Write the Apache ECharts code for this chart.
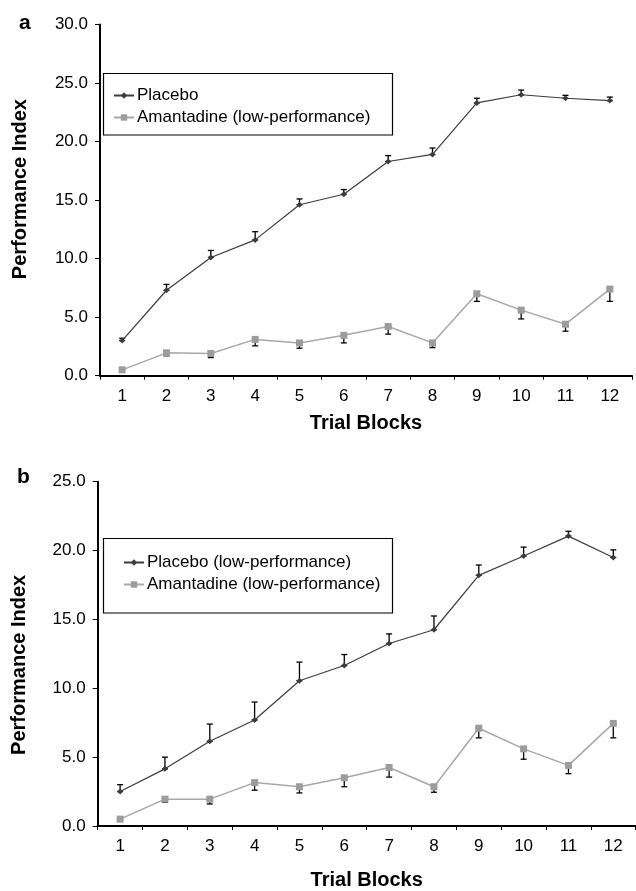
<!DOCTYPE html>
<html>
<head>
<meta charset="utf-8">
<script src="https://cdn.jsdelivr.net/npm/echarts@6/dist/echarts.min.js"></script>
<style>
html,body{margin:0;padding:0;background:#fff;}
#chart{width:636px;height:891px;}
</style>
</head>
<body>
<div id="chart"></div>
<script>
const categories = ['1','2','3','4','5','6','7','8','9','10','11','12'];

// Panel a
const placeboA = [3.0, 7.3, 10.1, 11.6, 14.6, 15.5, 18.3, 18.9, 23.3, 24.0, 23.7, 23.5];
const placeboAUpper = [3.2, 7.8, 10.7, 12.3, 15.1, 15.9, 18.8, 19.45, 23.7, 24.4, 23.95, 23.8];
const amantadineA = [0.5, 1.95, 1.9, 3.1, 2.8, 3.45, 4.2, 2.8, 7.0, 5.6, 4.4, 7.4];
const amantadineALower = [0.5, 1.7, 1.55, 2.55, 2.35, 2.8, 3.55, 2.4, 6.35, 4.85, 3.8, 6.35];

// Panel b
const placeboB = [2.5, 4.15, 6.15, 7.7, 10.55, 11.65, 13.25, 14.25, 18.2, 19.6, 21.05, 19.5];
const placeboBUpper = [3.0, 5.0, 7.4, 9.0, 11.9, 12.45, 13.95, 15.25, 18.95, 20.25, 21.4, 20.05];
const amantadineB = [0.5, 1.95, 1.95, 3.15, 2.85, 3.5, 4.25, 2.85, 7.1, 5.6, 4.4, 7.45];
const amantadineBLower = [0.5, 1.72, 1.6, 2.6, 2.4, 2.85, 3.55, 2.45, 6.4, 4.85, 3.8, 6.4];

const namesA = ['Placebo', 'Amantadine (low-performance)'];
const namesB = ['Placebo (low-performance)', 'Amantadine (low-performance)'];

const FONT = '"Liberation Sans", Arial, Helvetica, sans-serif';
const DARK = '#3c3c3c';
const GRAY = '#9c9c9c';

function errData(vals, ends) {
  return vals.map((v, i) => [i, Math.min(v, ends[i]), Math.max(v, ends[i])]);
}
function errRender(params, api) {
  const i = api.value(0);
  const lo = api.coord([i, api.value(1)]);
  const hi = api.coord([i, api.value(2)]);
  const cap = 3;
  if (Math.abs(lo[1] - hi[1]) < 0.5) return null;
  const style = { stroke: '#000', lineWidth: 1.3 };
  return {
    type: 'group',
    children: [
      { type: 'line', shape: { x1: lo[0], y1: lo[1], x2: hi[0], y2: hi[1] }, style: style },
      { type: 'line', shape: { x1: lo[0] - cap, y1: lo[1], x2: lo[0] + cap, y2: lo[1] }, style: style },
      { type: 'line', shape: { x1: hi[0] - cap, y1: hi[1], x2: hi[0] + cap, y2: hi[1] }, style: style }
    ]
  };
}

function xAxisCfg(gridIndex, gap) {
  return {
    type: 'category', gridIndex: gridIndex, data: categories, boundaryGap: true,
    name: 'Trial Blocks', nameLocation: 'middle', nameGap: gap,
    nameTextStyle: { fontFamily: FONT, fontWeight: 'bold', fontSize: 20, color: '#000' },
    axisLine: { lineStyle: { color: '#000', width: 2 } },
    axisTick: { show: true, length: 4, lineStyle: { color: '#000', width: 1 } },
    axisLabel: { fontFamily: FONT, fontSize: 17, color: '#000', margin: 12 },
    splitLine: { show: false }
  };
}
function yAxisCfg(gridIndex, max, gap, pad) {
  return {
    type: 'value', gridIndex: gridIndex, min: 0, max: max, interval: 5,
    name: 'Performance Index', nameLocation: 'middle', nameGap: gap, nameRotate: 90,
    nameTextStyle: { fontFamily: FONT, fontWeight: 'bold', fontSize: 20, color: '#000', padding: pad },
    axisLine: { show: true, lineStyle: { color: '#000', width: 2 } },
    axisTick: { show: true, length: 5, lineStyle: { color: '#000', width: 1 } },
    axisLabel: { fontFamily: FONT, fontSize: 17, color: '#000', margin: 12, formatter: v => v.toFixed(1) },
    splitLine: { show: false }
  };
}

const chart = echarts.init(document.getElementById('chart'), null, { renderer: 'canvas' });
chart.setOption({
  backgroundColor: '#fff',
  animation: false,
  grid: [
    { left: 100, top: 24.5, width: 532, height: 351.2 },
    { left: 97.7, top: 481.7, width: 538, height: 351.6 }
  ],
  xAxis: [xAxisCfg(0, 38), xAxisCfg(1, 44)],
  yAxis: [yAxisCfg(0, 30, 70, [0, 0, 0, 22]), yAxisCfg(1, 25, 68, [0, 22, 0, 0])],
  legend: [
    {
      data: namesA.map(n => ({ name: n })), orient: 'vertical', left: 108, top: 82, itemGap: 5,
      itemWidth: 20, itemHeight: 8,
      textStyle: { fontFamily: FONT, fontSize: 17, color: '#000', padding: [0, 0, 0, -2] }
    },
    {
      data: namesB.map(n => ({ name: n })), orient: 'vertical', left: 118, top: 549, itemGap: 5,
      itemWidth: 20, itemHeight: 8,
      textStyle: { fontFamily: FONT, fontSize: 17, color: '#000', padding: [0, 0, 0, -2] }
    }
  ],
  graphic: [
    { type: 'rect', shape: { x: 103.5, y: 73.5, width: 289, height: 61.5 }, style: { fill: 'none', stroke: '#000', lineWidth: 1.2 }, z: 1 },
    { type: 'rect', shape: { x: 103.5, y: 538.5, width: 289, height: 74.5 }, style: { fill: 'none', stroke: '#000', lineWidth: 1.2 }, z: 1 },
    { type: 'text', left: 19, top: 13, style: { text: 'a', font: 'bold 21px ' + FONT, fill: '#000' } },
    { type: 'text', left: 17, top: 467, style: { text: 'b', font: 'bold 21px ' + FONT, fill: '#000' } }
  ],
  series: [
    {
      name: namesA[0], type: 'line', xAxisIndex: 0, yAxisIndex: 0, data: placeboA,
      symbol: 'diamond', symbolSize: 6, itemStyle: { color: DARK }, lineStyle: { color: DARK, width: 1.2 }, z: 3
    },
    {
      name: namesA[1], type: 'line', xAxisIndex: 0, yAxisIndex: 0, data: amantadineA,
      symbol: 'rect', symbolSize: 7, itemStyle: { color: GRAY }, lineStyle: { color: '#a8a8a8', width: 1.5 }, z: 3
    },
    { type: 'custom', xAxisIndex: 0, yAxisIndex: 0, renderItem: errRender, data: errData(placeboA, placeboAUpper), z: 2 },
    { type: 'custom', xAxisIndex: 0, yAxisIndex: 0, renderItem: errRender, data: errData(amantadineA, amantadineALower), z: 2 },
    {
      name: namesB[0], type: 'line', xAxisIndex: 1, yAxisIndex: 1, data: placeboB,
      symbol: 'diamond', symbolSize: 6, itemStyle: { color: DARK }, lineStyle: { color: DARK, width: 1.2 }, z: 3
    },
    {
      name: namesB[1], type: 'line', xAxisIndex: 1, yAxisIndex: 1, data: amantadineB,
      symbol: 'rect', symbolSize: 7, itemStyle: { color: GRAY }, lineStyle: { color: '#a8a8a8', width: 1.5 }, z: 3
    },
    { type: 'custom', xAxisIndex: 1, yAxisIndex: 1, renderItem: errRender, data: errData(placeboB, placeboBUpper), z: 2 },
    { type: 'custom', xAxisIndex: 1, yAxisIndex: 1, renderItem: errRender, data: errData(amantadineB, amantadineBLower), z: 2 }
  ]
});
</script>
</body>
</html>
